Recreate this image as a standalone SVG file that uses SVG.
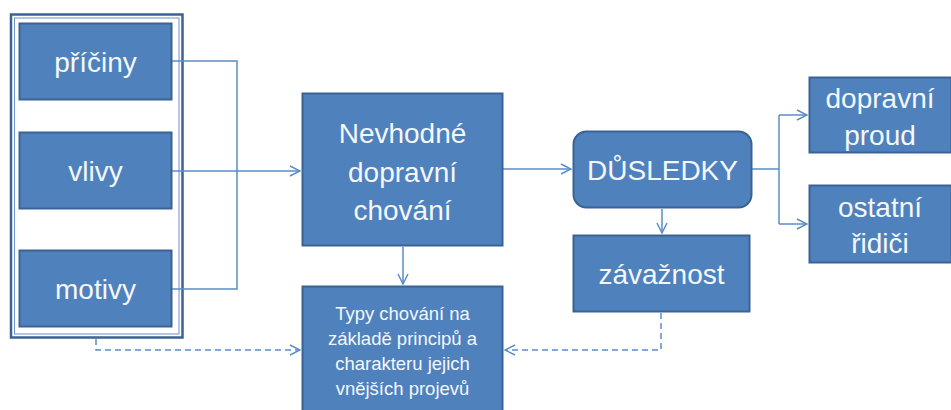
<svg xmlns="http://www.w3.org/2000/svg" width="951" height="410" viewBox="0 0 951 410">
<style>
.box{fill:#4f81bd;stroke:#3a6294;stroke-width:2}
.t{fill:#f4f7fb;font-family:"Liberation Sans",Arial,sans-serif;text-anchor:middle;dominant-baseline:central}
.big{font-size:28px}
.sm{font-size:18.5px}
.c{fill:none;stroke:#5b8cc8;stroke-width:1.5}
.d{fill:none;stroke:#5b8cc8;stroke-width:1.5;stroke-dasharray:6 4}
</style>
<defs>
<marker id="ah" viewBox="0 0 12 12" refX="11" refY="6" markerWidth="12" markerHeight="12" markerUnits="userSpaceOnUse" orient="auto">
<path d="M1,1 L11,6 L1,11" fill="none" stroke="#5b8cc8" stroke-width="1.5"/>
</marker>
</defs>
<rect width="951" height="410" fill="#ffffff"/>
<g id="frame">
<rect x="11" y="14.5" width="171.5" height="323" fill="#ffffff" stroke="#3a6294" stroke-width="2.5"/>
<rect x="14.5" y="18" width="164.5" height="316" fill="none" stroke="#6b93c6" stroke-width="1"/>
</g>
<g id="connectors">
<path class="c" d="M172,61 H237 V289 H172"/>
<path class="c" d="M172,171 H300" marker-end="url(#ah)"/>
<path class="d" d="M96,339 V350 H300" marker-end="url(#ah)"/>
<path class="c" d="M503,169 H571" marker-end="url(#ah)"/>
<path class="c" d="M403,247 V284" marker-end="url(#ah)"/>
<path class="c" d="M662,209 V233" marker-end="url(#ah)"/>
<path class="d" d="M661,313 V350 H505" marker-end="url(#ah)"/>
<path class="c" d="M752,169 H779"/>
<path class="c" d="M779,115 V224"/>
<path class="c" d="M779,115 H807" marker-end="url(#ah)"/>
<path class="c" d="M779,224 H807" marker-end="url(#ah)"/>
</g>
<g id="pribiny">
<rect class="box" x="19.5" y="23.5" width="152" height="76"/>
<text class="t big" x="95.5" y="62">příčiny</text>
</g>
<g id="vlivy">
<rect class="box" x="19.5" y="132.5" width="152" height="76"/>
<text class="t big" x="95.5" y="171">vlivy</text>
</g>
<g id="motivy">
<rect class="box" x="19.5" y="250.5" width="152" height="76"/>
<text class="t big" x="95.5" y="289">motivy</text>
</g>
<g id="nevhodne">
<rect class="box" x="302.5" y="93.5" width="200" height="152"/>
<text class="t big" x="402.5" y="133">Nevhodné</text>
<text class="t big" x="402.5" y="172">dopravní</text>
<text class="t big" x="402.5" y="210">chování</text>
</g>
<g id="typy">
<rect class="box" x="302.5" y="286.5" width="200" height="130"/>
<text class="t sm" x="402.5" y="313">Typy chování na</text>
<text class="t sm" x="402.5" y="338">základě principů a</text>
<text class="t sm" x="402.5" y="363">charakteru jejich</text>
<text class="t sm" x="402.5" y="388">vnějších projevů</text>
</g>
<g id="dusledky">
<rect class="box" x="573.5" y="131.5" width="178" height="76" rx="13"/>
<text class="t big" x="662.5" y="170">DŮSLEDKY</text>
</g>
<g id="zavaznost">
<rect class="box" x="573.5" y="235.5" width="176" height="76"/>
<text class="t big" x="661.5" y="274">závažnost</text>
</g>
<g id="dopravni-proud">
<rect class="box" x="809.5" y="77.5" width="142" height="75"/>
<text class="t big" x="880" y="98">dopravní</text>
<text class="t big" x="880" y="135">proud</text>
</g>
<g id="ostatni-ridici">
<rect class="box" x="809.5" y="185.5" width="142" height="77"/>
<text class="t big" x="880" y="207">ostatní</text>
<text class="t big" x="880" y="243">řidiči</text>
</g>
</svg>
